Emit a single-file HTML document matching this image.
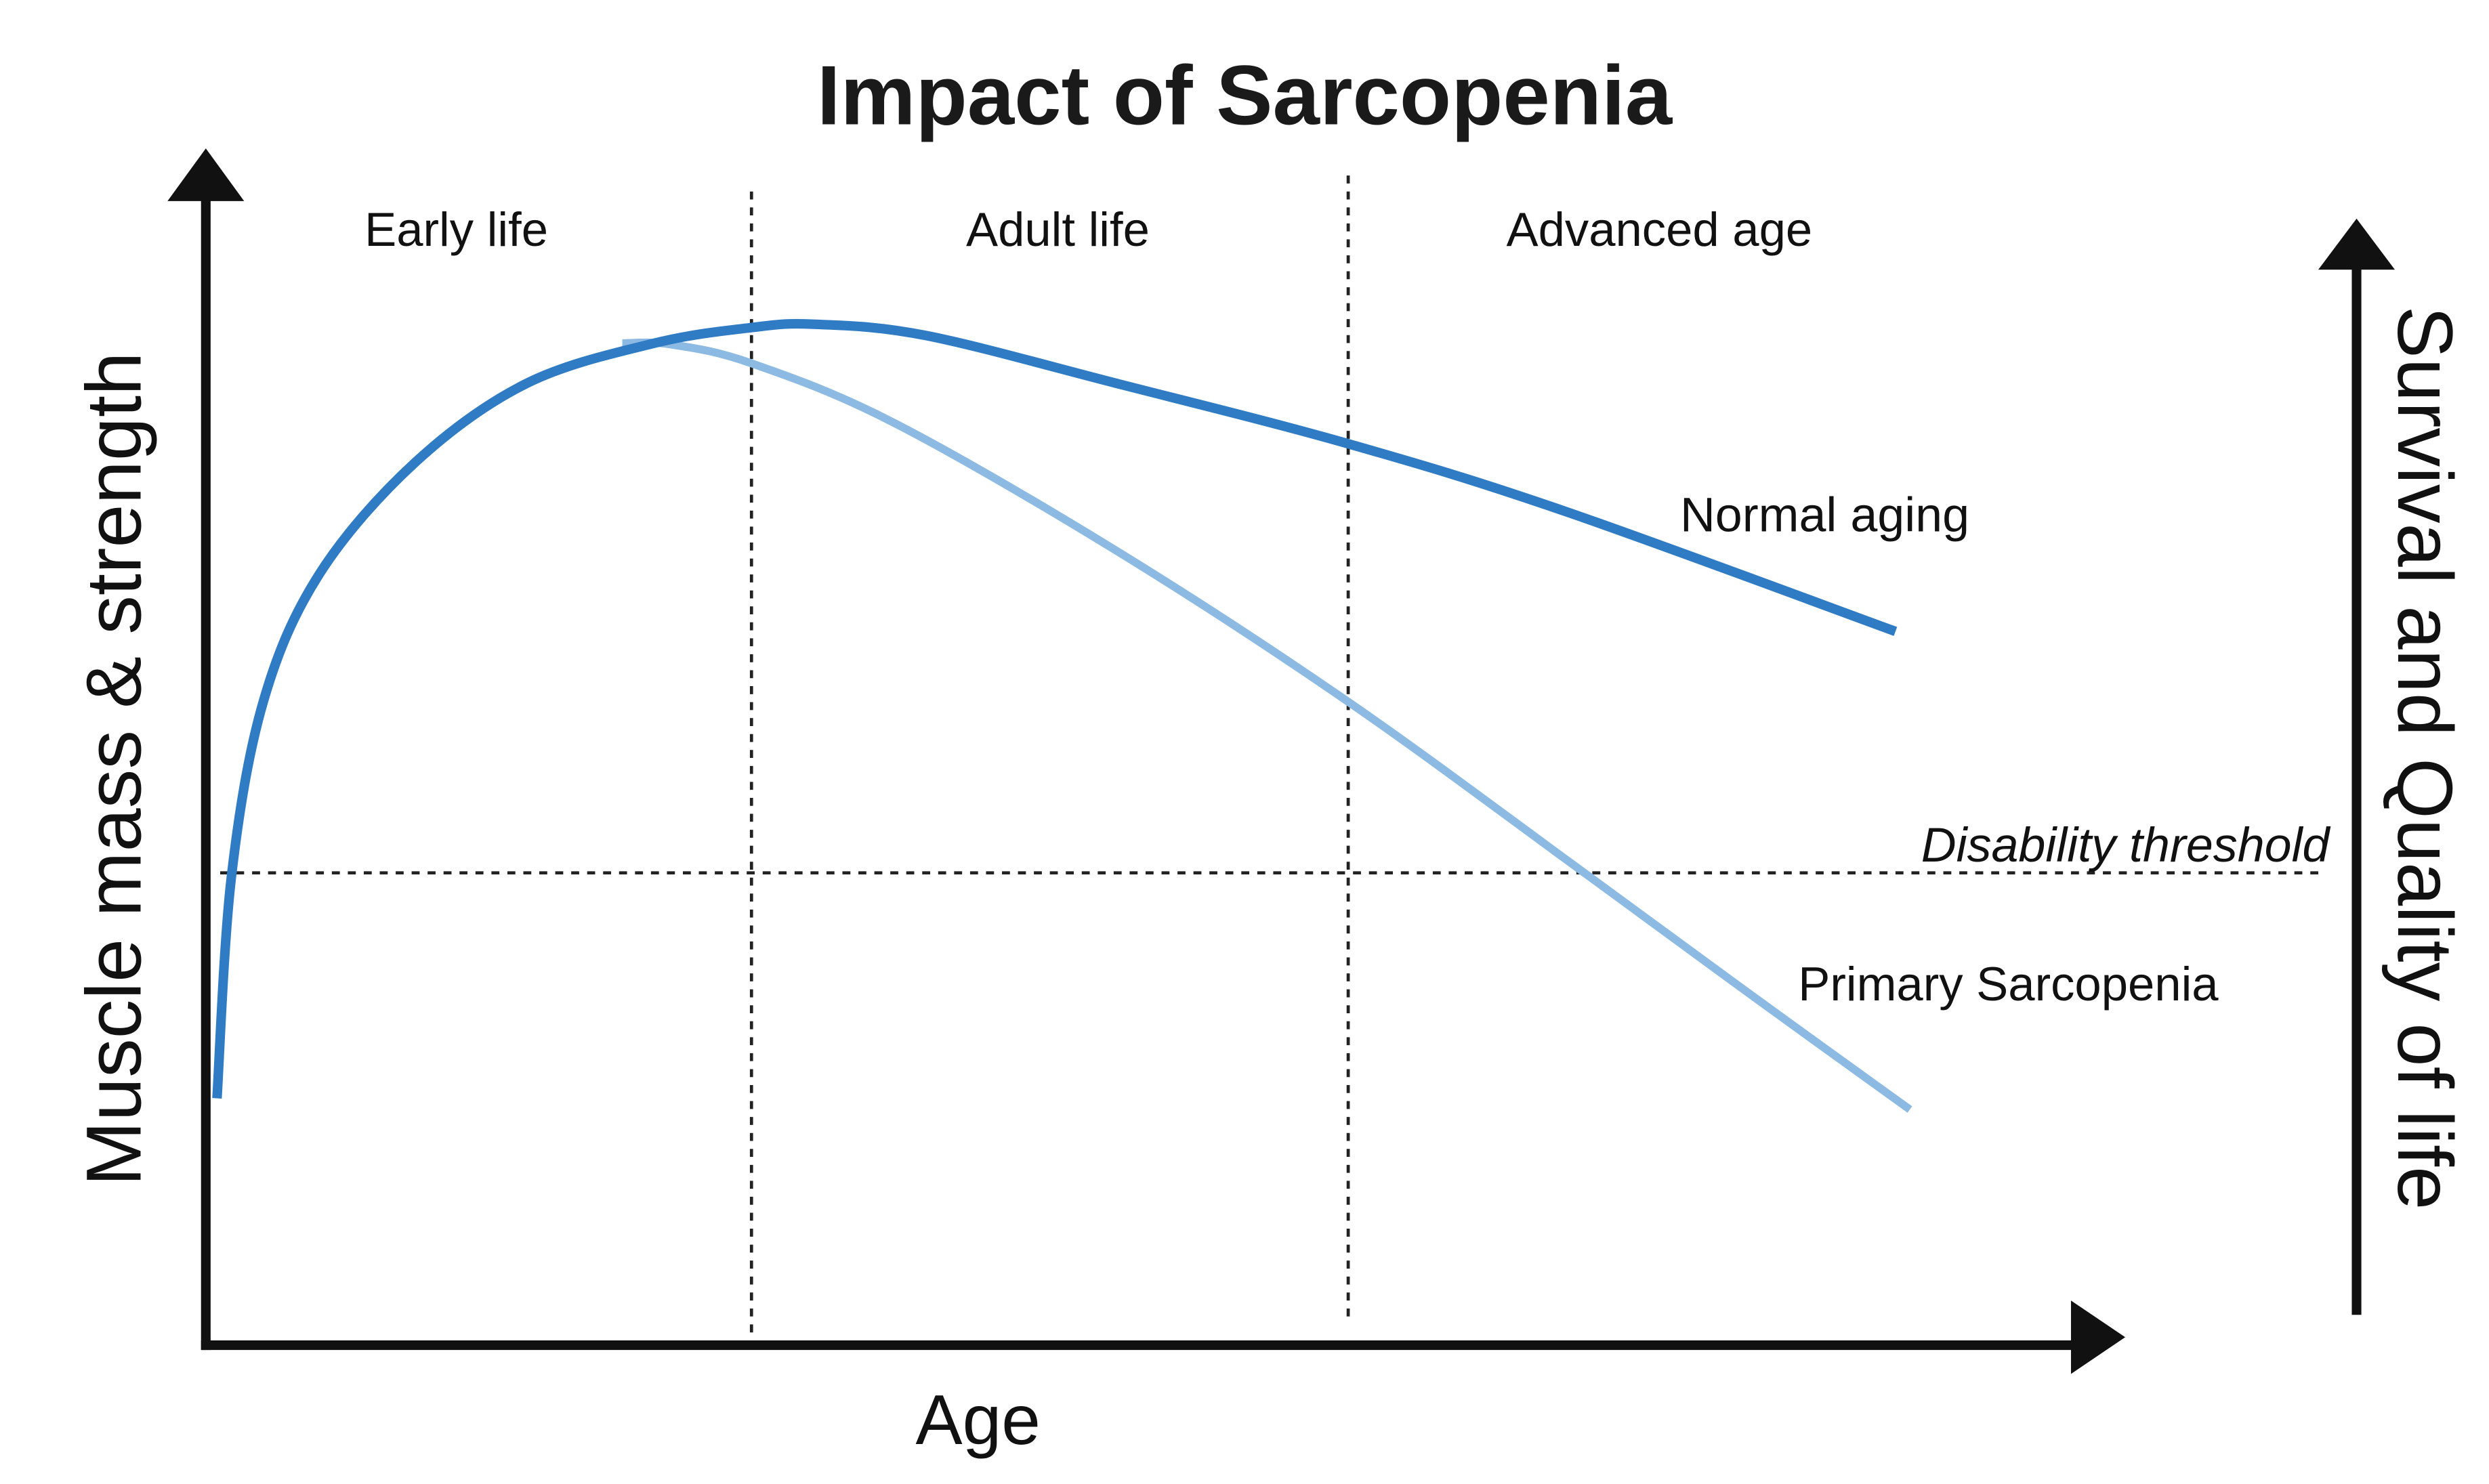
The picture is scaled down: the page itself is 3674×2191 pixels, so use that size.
<!DOCTYPE html>
<html><head><meta charset="utf-8"><style>
html,body{margin:0;padding:0;background:#fff;}
svg{display:block;}
text{font-family:"Liberation Sans",sans-serif;fill:#111;}
</style></head><body>
<svg id="chart" width="3674" height="2191" viewBox="0 0 1560 930" preserveAspectRatio="none" xmlns="http://www.w3.org/2000/svg">
<text x="780" y="78" text-anchor="middle" font-size="53" font-weight="bold" style="fill:#1a1a1a">Impact of Sarcopenia</text>
<line x1="129" y1="118" x2="129" y2="846" stroke="#111" stroke-width="6"/>
<polygon points="129,93 105,126 153,126" fill="#111"/>
<line x1="126" y1="843" x2="1302" y2="843" stroke="#111" stroke-width="6"/>
<polygon points="1332,838 1298,815 1298,861" fill="#111"/>
<line x1="1477" y1="160" x2="1477" y2="824" stroke="#111" stroke-width="6"/>
<polygon points="1477,137 1453,169 1501,169" fill="#111"/>
<line x1="471" y1="120" x2="471" y2="836" stroke="#222" stroke-width="2" stroke-dasharray="5,5"/>
<line x1="845" y1="110" x2="845" y2="826" stroke="#222" stroke-width="2" stroke-dasharray="5,5"/>
<line x1="138" y1="547" x2="1458" y2="547" stroke="#222" stroke-width="2" stroke-dasharray="5,5"/>
<text x="286" y="154" text-anchor="middle" font-size="30">Early life</text>
<text x="663" y="154" text-anchor="middle" font-size="30">Adult life</text>
<text x="1040" y="154" text-anchor="middle" font-size="30">Advanced age</text>
<text x="1053" y="333" font-size="30.5">Normal aging</text>
<text x="1127" y="627" font-size="30">Primary Sarcopenia</text>
<text x="1460" y="540" text-anchor="end" font-size="30.5" font-style="italic">Disability threshold</text>
<text transform="translate(88,482) rotate(-90)" text-anchor="middle" font-size="49">Muscle mass &amp; strength</text>
<text transform="translate(1503,475) rotate(90)" text-anchor="middle" font-size="49">Survival and Quality of life</text>
<text x="613" y="905" text-anchor="middle" font-size="44">Age</text>
<g id="series"></g>
</svg>
<script>
const normalAge = [0.7,1.6,3.6,7.1,13.1,20.1,28.1,34.2,38.1,45.1,57.1,71.6,85.1,105.9];
const normalValue = [22.1,41.9,57.6,69.0,79.0,86.1,89.7,91.1,91.4,90.4,86.1,80.7,74.7,63.9];
const sarcoAge = [26.1,29.1,34.2,43.1,57.1,71.6,86.1,97.1,106.8];
const sarcoValue = [89.7,89.6,87.9,82.6,71.1,57.6,42.6,31.1,21.1];

function xScale(v){return 129 + v*10;}
function yScale(v){return 843 - v*7;}
function pathFrom(xs, ys){
  const p = xs.map((x,i)=>[xScale(x), yScale(ys[i])]);
  let d = 'M'+p[0][0]+','+p[0][1];
  for(let i=0;i<p.length-1;i++){
    const p0=p[i-1]||p[i], p1=p[i], p2=p[i+1], p3=p[i+2]||p2;
    const c1x=p1[0]+(p2[0]-p0[0])/6, c1y=p1[1]+(p2[1]-p0[1])/6;
    const c2x=p2[0]-(p3[0]-p1[0])/6, c2y=p2[1]-(p3[1]-p1[1])/6;
    d+=' C'+c1x+','+c1y+' '+c2x+','+c2y+' '+p2[0]+','+p2[1];
  }
  return d;
}
const g = document.getElementById('series');
const ns = 'http://www.w3.org/2000/svg';
const s = document.createElementNS(ns,'path');
s.setAttribute('d', pathFrom(sarcoAge, sarcoValue));
s.setAttribute('fill','none');
s.setAttribute('stroke','#8cbae2');
s.setAttribute('stroke-width','5');


g.appendChild(s);
const n = document.createElementNS(ns,'path');
n.setAttribute('d', pathFrom(normalAge, normalValue));
n.setAttribute('fill','none');
n.setAttribute('stroke','#2f7bc4');
n.setAttribute('stroke-width','6');


g.appendChild(n);
</script>
</body></html>
